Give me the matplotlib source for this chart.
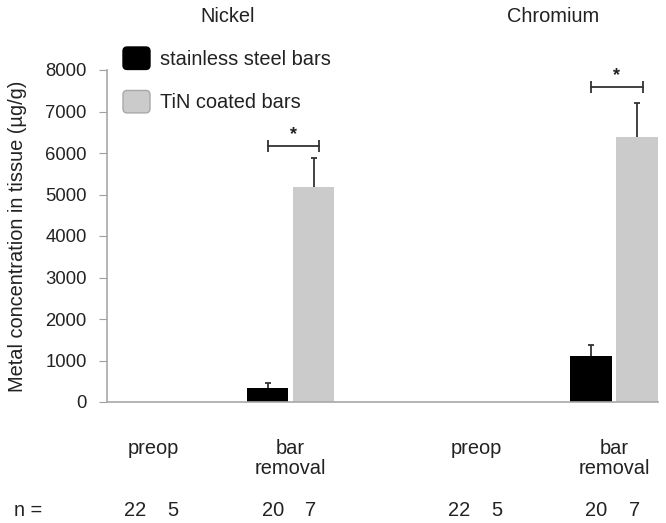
import matplotlib
matplotlib.use('Agg')
from matplotlib import pyplot as plt
from matplotlib.patches import FancyBboxPatch, Patch
from matplotlib.legend_handler import HandlerPatch
import matplotlib.transforms as mtransforms

plt.rcParams['font.family'] = ['Liberation Sans', 'DejaVu Sans']

# data
groups = ['preop', 'bar\nremoval', 'preop', 'bar\nremoval']
metals = ['Nickel', 'Chromium']
steel_mean = [2, 340, 2, 1110]
steel_err = [0, 120, 0, 260]
tin_mean = [1, 5180, 1, 6385]
tin_err = [0, 700, 0, 820]
steel_n = [22, 20, 22, 20]
tin_n = [5, 7, 5, 7]
sig_level = [6170, 7590]   # bracket heights for the bar-removal groups

group_x = [0, 1, 2.35, 3.35]
off = 0.167
w = 0.30
txt = '#222222'

fig = plt.figure(figsize=(6.66, 5.23), dpi=100)
ax = fig.add_axes([107/666, 1 - 402/523, 551/666, 332/523])

xs = [g - off for g in group_x]
xt = [g + off for g in group_x]
ax.bar(xs, steel_mean, w, color='black', zorder=2)
ax.bar(xt, tin_mean, w, color='#cbcbcb', zorder=2)

# upward-only error bars where an error is given
for xpos, means, errs in [(xs, steel_mean, steel_err), (xt, tin_mean, tin_err)]:
    ex = [x for x, e in zip(xpos, errs) if e > 0]
    ey = [m for m, e in zip(means, errs) if e > 0]
    ee = [e for e in errs if e > 0]
    eb = ax.errorbar(ex, ey, yerr=[[0]*len(ee), ee], fmt='none', ecolor='#333333',
                     elinewidth=1.3, capsize=2.5, capthick=1.3, zorder=3)
    eb[1][0].set_visible(False)

# significance brackets on the bar removal groups
for i, lvl in zip([1, 3], sig_level):
    x1, x2 = xs[i], xt[i] + 0.04
    ax.plot([x1, x2], [lvl, lvl], color='#333333', lw=1.3, marker='|', markersize=8,
            markeredgewidth=1.3)
    ax.text((x1 + x2) / 2, lvl + 60, '*', ha='center', va='bottom', fontsize=13,
            fontweight='bold', color=txt)

ax.set_xlim(group_x[0] - 0.333, group_x[3] + 0.319)
ax.set_ylim(0, 8000)
ax.set_yticks(range(0, 8001, 1000))
ax.set_xticks(group_x, groups)
ax.tick_params(axis='x', length=0, pad=27, labelsize=14.4, labelcolor=txt)
ax.tick_params(axis='y', length=6, color='#a0a0a0', labelsize=13.3, labelcolor=txt, pad=8.5)
for t in ax.get_xticklabels():
    t.set_linespacing(1.05)
for s in ['top', 'right']:
    ax.spines[s].set_visible(False)
for s in ['left', 'bottom']:
    ax.spines[s].set_color('#a8a8a8')
    ax.spines[s].set_linewidth(1.2)
ax.set_ylabel('Metal concentration in tissue (µg/g)', fontsize=14.4, color=txt)
ax.yaxis.set_label_coords(-0.145, 0.5)

# titles
fig.text(228/666, 1 - 17/523, metals[0], ha='center', va='center', fontsize=14.4, color=txt)
fig.text(553/666, 1 - 17/523, metals[1], ha='center', va='center', fontsize=14.4, color=txt)

# n row
trans = mtransforms.blended_transform_factory(ax.transData, fig.transFigure)
fig.text(14/666, 1 - 510/523, 'n =', ha='left', va='center', fontsize=14.4, color=txt)
for i in range(4):
    ax.text(xs[i] + 0.04, 1 - 510/523, str(steel_n[i]), transform=trans, ha='center', va='center',
            fontsize=14.4, color=txt, clip_on=False)
    ax.text(xt[i] - 0.02, 1 - 510/523, str(tin_n[i]), transform=trans, ha='center', va='center',
            fontsize=14.4, color=txt, clip_on=False)


# legend with rounded square keys
def round_box(legend, orig_handle, xdescent, ydescent, width, height, fontsize):
    r = 3
    return FancyBboxPatch((-xdescent + r, -ydescent + r), width - 2*r, height - 2*r,
                          boxstyle='round,pad=%d' % r)


handles = [Patch(facecolor='black', edgecolor='black', label='stainless steel bars'),
           Patch(facecolor='#cbcbcb', edgecolor='#a8a8a8', label='TiN coated bars')]
fig.legend(handles=handles, loc='upper left', bbox_to_anchor=(123/666, 1 - 47/523),
           frameon=False, fontsize=14.4, handlelength=1.35, handleheight=1.35,
           handletextpad=0.5, labelspacing=1.05, borderpad=0, borderaxespad=0,
           labelcolor=txt, handler_map={Patch: HandlerPatch(patch_func=round_box)})

plt.savefig('out.png', dpi=100)
